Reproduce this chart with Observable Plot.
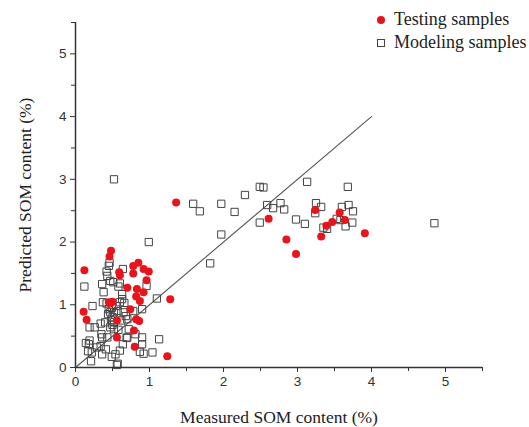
<!DOCTYPE html>
<html>
<head>
<meta charset="utf-8">
<script src="https://cdn.jsdelivr.net/npm/d3@7"></script>
<script src="https://cdn.jsdelivr.net/npm/@observablehq/plot@0.6"></script>
<style>
  html, body { margin: 0; padding: 0; background: #fff; }
  #wrap { position: relative; width: 529px; height: 427px; }
  #legend { position: absolute; left: 368px; top: 8px; font-family: "Liberation Serif", serif; font-size: 18px; color: #222; line-height: 23px; }
  #legend .row { display: flex; align-items: center; }
  #legend .sym { width: 26px; display: flex; justify-content: center; align-items: center; }
  .dot { width: 8px; height: 8px; border-radius: 50%; background: #e8141c; }
  .sq { width: 6px; height: 6px; border: 1px solid #444; }
</style>
</head>
<body>
<div id="wrap">
  <div id="chart"></div>
  <div id="legend"></div>
</div>
<script>
// ---- data ----
const seriesNames = ["Testing samples", "Modeling samples"];

const testX = [0.12,0.11,0.15,0.48,0.46,0.45,0.50,0.47,0.56,0.56,0.59,0.60,0.70,0.74,0.78,0.78,0.85,0.82,0.83,0.87,0.79,0.80,0.82,0.86,0.92,0.92,0.99,0.96,1.28,1.24,1.36,2.61,2.85,2.98,3.24,3.32,3.39,3.47,3.57,3.64,3.91];
const testY = [1.55,0.89,0.76,1.86,1.77,1.04,1.05,1.02,0.75,0.48,1.52,1.47,1.27,0.93,1.50,1.62,1.67,1.13,1.25,1.06,0.59,0.33,0.77,0.74,1.20,1.57,1.53,1.39,1.09,0.18,2.63,2.37,2.04,1.81,2.51,2.09,2.26,2.32,2.47,2.35,2.14];

const modelX = [0.52,0.99,1.59,1.68,1.97,2.15,2.29,2.49,2.54,1.97,1.82,2.49,2.59,2.67,2.77,2.82,2.98,3.10,3.13,3.25,3.24,3.32,3.35,3.40,3.60,3.68,3.69,3.75,3.74,3.65,3.53,3.58,4.85,
  0.46,0.45,0.64,0.42,0.43,0.47,0.51,0.60,0.12,0.36,0.96,0.58,0.38,0.63,1.10,0.23,0.37,0.42,0.60,0.63,0.66,0.90,0.78,0.45,0.47,0.52,0.50,0.48,0.52,0.65,0.68,0.70,0.19,0.26,0.34,0.47,0.52,0.35,0.36,0.43,0.70,0.81,0.90,0.90,1.13,0.14,0.17,0.19,0.21,0.34,0.29,0.41,0.36,0.22,0.49,0.54,0.57,0.56,0.60,0.64,0.69,0.72,0.92,1.04,0.87,0.55,0.57,0.50,0.44,0.49,0.58,0.62,0.40,0.18];
const modelY = [3.00,2.00,2.61,2.49,2.61,2.48,2.75,2.88,2.87,2.12,1.66,2.31,2.59,2.54,2.62,2.52,2.36,2.29,2.96,2.62,2.46,2.56,2.23,2.21,2.56,2.88,2.59,2.49,2.31,2.25,2.37,2.35,2.30,
  1.67,1.62,1.57,1.53,1.46,1.38,1.36,1.34,1.29,1.33,1.30,1.29,1.20,1.17,1.10,0.98,1.04,1.02,1.04,1.09,1.03,0.93,0.90,0.93,0.88,0.88,0.80,0.75,0.72,0.88,0.82,0.77,0.64,0.64,0.70,0.64,0.61,0.53,0.48,0.48,0.48,0.53,0.48,0.37,0.45,0.39,0.26,0.43,0.10,0.34,0.32,0.29,0.21,0.24,0.17,0.21,0.06,0.04,0.27,0.37,0.47,0.61,0.22,0.24,0.25,0.98,0.90,0.68,0.85,0.95,0.60,0.75,0.72,0.37];

const lineX = [0, 4];
const lineY = [0, 4];

const majorTicks = [0, 1, 2, 3, 4, 5];
const minorTicks = [0.5, 1.5, 2.5, 3.5, 4.5, 5.5];
const xTitle = "Measured SOM content (%)";
const yTitle = "Predicted SOM content (%)";

// ---- build ----
const test = testX.map((x, i) => ({x, y: testY[i]}));
const model = modelX.map((x, i) => ({x, y: modelY[i]}));
const diag = lineX.map((x, i) => ({x, y: lineY[i]}));

const axisColor = "#333";
const tickFont = "Liberation Sans, Arial, sans-serif";
const titleFont = "Liberation Serif, Times New Roman, serif";

const chart = Plot.plot({
  width: 529,
  height: 427,
  marginLeft: 75,
  marginRight: 47,
  marginTop: 22,
  marginBottom: 60,
  x: {domain: [0, 5.5]},
  y: {domain: [0, 5.5]},
  style: {background: "white", color: axisColor},
  marks: [
    Plot.line(diag, {x: "x", y: "y", stroke: "#555", strokeWidth: 1.1}),
    Plot.dot(model, {x: "x", y: "y", symbol: "square", r: 4.1, stroke: "#444", strokeWidth: 1, fill: "none"}),
    Plot.dot(test, {x: "x", y: "y", r: 4, fill: "#e8141c"}),
    Plot.ruleY([0], {stroke: axisColor, strokeWidth: 1.5}),
    Plot.ruleX([0], {stroke: axisColor, strokeWidth: 1.5}),
    Plot.axisX({ticks: majorTicks, tickSize: 5, tickPadding: 4, fontSize: 13.5, fontFamily: tickFont, label: null, tickFormat: d => String(d), stroke: axisColor}),
    Plot.axisX({ticks: minorTicks, tickSize: 4, text: null, label: null, stroke: axisColor}),
    Plot.axisY({ticks: majorTicks, tickSize: 5, tickPadding: 4, fontSize: 13.5, fontFamily: tickFont, label: null, tickFormat: d => String(d), stroke: axisColor}),
    Plot.axisY({ticks: minorTicks, tickSize: 4, text: null, label: null, stroke: axisColor}),
    Plot.text([xTitle], {frameAnchor: "bottom", dy: 50, lineAnchor: "middle", textAnchor: "middle", text: d => d, fontFamily: titleFont, fontSize: 17.5, fill: "#222"}),
    Plot.text([yTitle], {frameAnchor: "left", dx: -50, rotate: -90, lineAnchor: "middle", textAnchor: "middle", text: d => d, fontFamily: titleFont, fontSize: 17.5, fill: "#222"})
  ]
});
document.getElementById("chart").appendChild(chart);

// legend
const legend = document.getElementById("legend");
seriesNames.forEach((name, i) => {
  const row = document.createElement("div");
  row.className = "row";
  const sym = document.createElement("div");
  sym.className = "sym";
  const s = document.createElement("div");
  s.className = i === 0 ? "dot" : "sq";
  sym.appendChild(s);
  const t = document.createElement("span");
  t.textContent = name;
  row.appendChild(sym);
  row.appendChild(t);
  legend.appendChild(row);
});
</script>
</body>
</html>
